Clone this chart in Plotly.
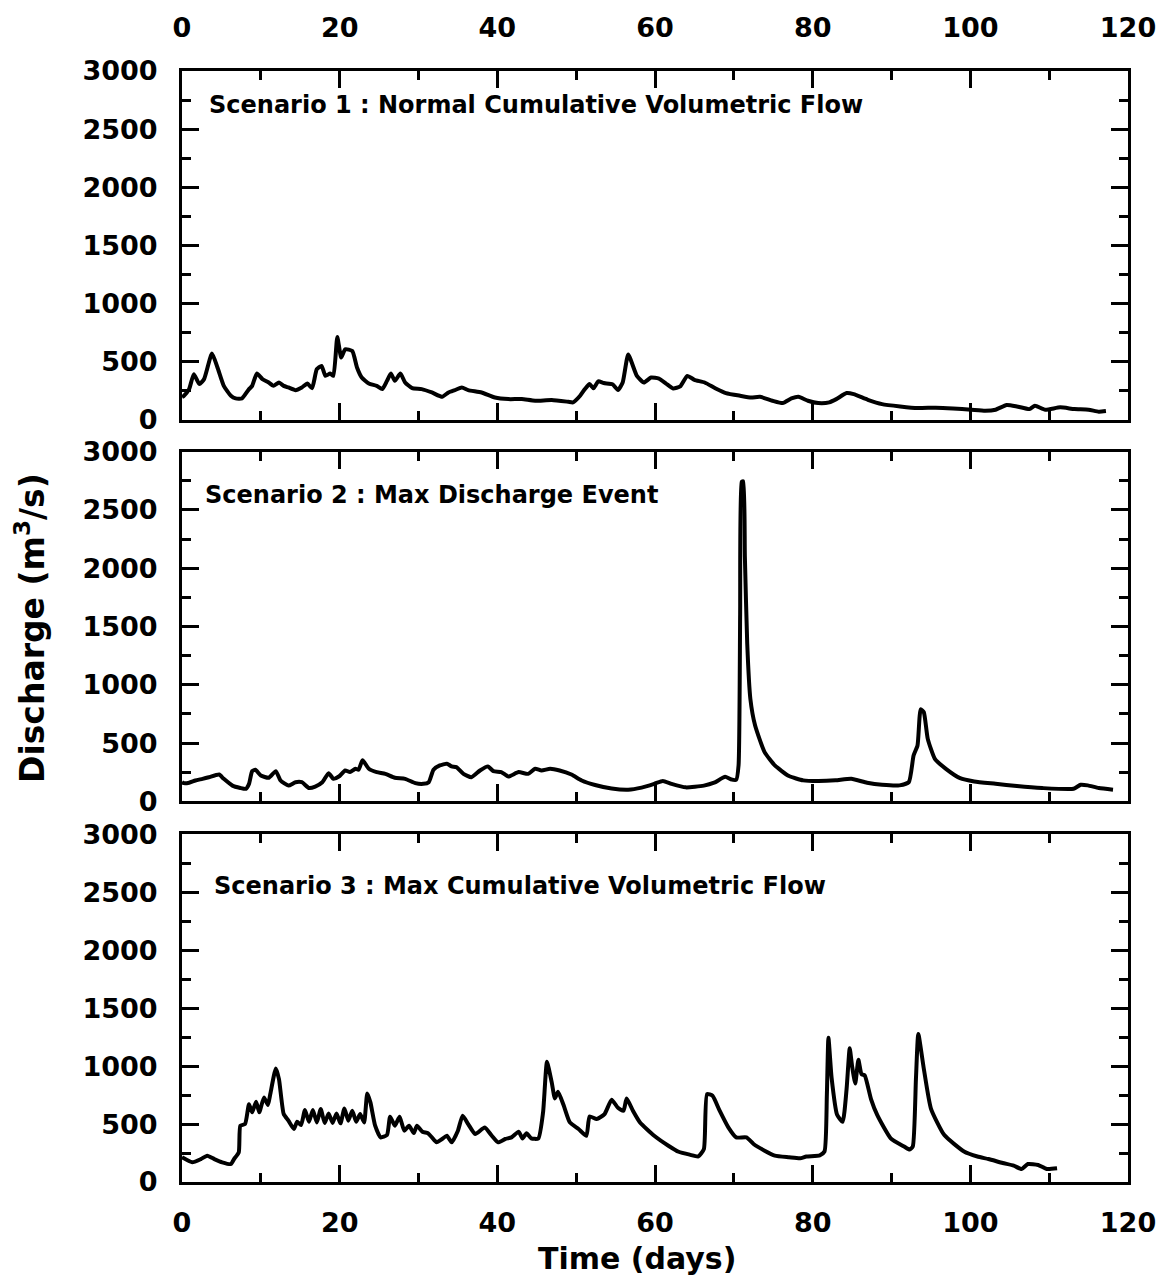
import plotly.graph_objects as go

# Scenario 1 : normal cumulative volumetric flow
s1_days = [0, 0.25, 0.9, 1.5, 2.2, 2.8, 3.8, 4.5, 5.3, 6.2, 6.8, 7.6, 8.5, 8.9, 9.5, 10.2,
           11.0, 11.6, 12.3, 12.9, 13.5, 14.4, 15.2, 15.9, 16.5, 17.1, 17.7, 18.2, 18.8, 19.2,
           19.7, 20.2, 20.7, 21.6, 22.2, 22.8, 23.7, 24.7, 25.4, 26.0, 26.5, 27.0, 27.7, 28.3,
           29.2, 30.4, 31.7, 33.0, 33.8, 34.6, 35.5, 36.3, 38.0, 39.7, 41.4, 43.1, 44.8, 46.9,
           49.0, 49.6, 50.5, 51.1, 51.7, 52.2, 52.8, 53.5, 54.6, 55.3, 55.9, 56.6, 57.7, 58.6,
           59.5, 60.5, 61.4, 62.3, 63.2, 64.1, 65.0, 66.3, 67.7, 69.0, 70.8, 72.2, 73.3, 74.9,
           76.2, 77.3, 78.2, 79.4, 80.7, 82.1, 83.0, 84.3, 85.2, 87.0, 88.8, 91.1, 93.3, 95.6,
           97.8, 100.1, 101.9, 103.2, 104.6, 105.9, 107.5, 108.2, 109.5, 111.4, 113.2, 115.0,
           116.3, 117.2]
s1_flow = [195, 206, 263, 391, 306, 349, 569, 449, 291, 206, 183, 183, 263, 291, 397, 349,
           320, 291, 320, 291, 277, 254, 277, 311, 271, 434, 463, 377, 397, 377,
           711, 534, 606, 591, 449, 363, 311, 291, 263, 334, 397, 334, 397, 320,
           271, 263, 234, 197, 234, 254, 277, 254, 234, 191, 177, 177, 163, 169,
           154, 149, 206, 263, 306, 271, 330, 315, 305, 255, 320, 560, 377, 320,
           363, 354, 311, 269, 286, 377, 343, 320, 269, 229, 206, 191, 197, 163,
           143, 183, 197, 163, 143, 149, 177, 229, 220, 171, 134, 114, 100, 103,
           97, 86, 77, 86, 126, 114, 91, 120, 86, 106, 91, 86,
           69, 74]

# Scenario 2 : max discharge event
s2_days = [0, 0.25, 0.9, 1.7, 2.6, 3.4, 4.7, 5.3, 6.4, 7.4, 8.1, 8.5, 8.9, 9.3, 10.0, 11.0,
           11.9, 12.5, 13.5, 14.4, 15.2, 16.1, 16.9, 17.8, 18.6, 19.2, 19.9, 20.7, 21.3, 22.0,
           22.4, 22.9, 23.7, 24.7, 25.8, 27.0, 28.3, 29.6, 30.6, 31.3, 31.9, 32.7, 33.6, 34.2,
           34.8, 35.7, 36.7, 37.8, 38.8, 39.5, 40.5, 41.4, 42.7, 43.9, 44.8, 45.6, 46.7, 47.9,
           49.4, 50.7, 52.4, 54.5, 56.6, 58.3, 59.9, 61.0, 62.1, 63.9, 66.2, 67.5, 68.9, 69.6,
           70.3, 70.6, 70.8, 71.0, 71.2, 71.4, 71.7, 72.1, 72.7, 73.9, 75.2, 77.0, 78.8, 80.6,
           82.9, 84.9, 86.9, 88.8, 91.0, 92.2, 92.8, 93.3, 93.7, 94.1, 94.6, 95.5, 96.9, 98.7,
           100.5, 103.2, 105.9, 109.1, 113.1, 114.0, 114.9, 116.3, 118.1]
s2_flow = [165, 156, 160, 179, 193, 207, 230, 193, 135, 115, 107, 150, 259, 271, 222, 202,
           259, 179, 135, 164, 164, 115, 127, 164, 242, 193, 213, 265, 251, 280,
           271, 352, 280, 251, 236, 202, 193, 156, 150, 164, 271, 308, 323, 300,
           294, 236, 207, 265, 300, 259, 251, 213, 251, 236, 280, 265, 280, 265,
           230, 179, 140, 110, 100, 118, 150, 175, 150, 120, 135, 160, 210, 190,
           185, 308, 1600, 2740, 2745, 2100, 1350, 877, 650, 422, 308, 217, 180, 174,
           180, 194, 160, 142, 137, 165, 393, 479, 790, 764, 536, 365, 279, 199,
           171, 151, 131, 114, 108, 142, 137, 114, 100]

# Scenario 3 : max cumulative volumetric flow
s3_days = [0, 1.3, 2.4, 3.2, 4.1, 5.1, 6.2, 6.6, 7.2, 7.4, 8.0, 8.5, 8.9, 9.4, 9.8, 10.4,
           10.9, 11.2, 11.9, 12.3, 12.9, 13.5, 14.2, 14.6, 15.1, 15.6, 16.1, 16.6, 17.1, 17.6,
           18.1, 18.6, 19.1, 19.6, 20.1, 20.6, 21.1, 21.6, 22.1, 22.6, 23.1, 23.5, 23.9, 24.5,
           25.2, 26.0, 26.4, 27.0, 27.6, 28.2, 28.8, 29.4, 29.8, 30.5, 31.2, 31.7, 32.3, 33.0,
           33.6, 34.2, 35.0, 35.6, 36.3, 37.2, 38.4, 39.3, 40.1, 41.0, 41.8, 42.7, 43.2, 43.7,
           44.3, 45.2, 45.8, 46.3, 46.9, 47.3, 47.7, 48.4, 49.2, 50.3, 51.3, 51.7, 52.6, 53.6,
           54.5, 55.3, 56.0, 56.4, 57.2, 58.1, 59.9, 61.7, 63.0, 64.4, 65.5, 66.2, 66.6, 67.3,
           68.2, 69.3, 70.3, 71.6, 72.5, 73.9, 75.2, 77.0, 78.4, 79.2, 80.9, 81.5, 81.8, 82.0,
           82.4, 83.1, 83.8, 84.3, 84.7, 85.0, 85.4, 85.8, 86.2, 86.6, 87.4, 88.2, 89.9, 91.6,
           92.3, 92.7, 93.1, 93.4, 94.1, 95.0, 96.7, 99.2, 100.9, 102.3, 104.1, 105.5, 106.5,
           107.3, 108.6, 109.7, 111.0]
s3_flow = [213, 170, 198, 227, 198, 170, 155, 198, 256, 486, 500, 672, 601, 693, 601, 730,
           664, 759, 980, 888, 586, 529, 457, 520, 491, 621, 520, 621, 514, 629,
           509, 592, 509, 592, 506, 635, 529, 615, 520, 586, 514, 764, 687, 486,
           385, 405, 563, 486, 563, 443, 486, 422, 486, 434, 420, 385, 342, 371,
           399, 342, 443, 572, 500, 414, 471, 399, 342, 371, 385, 434, 376, 420,
           376, 376, 601, 1037, 859, 721, 779, 664, 514, 457, 399, 566, 543, 586,
           710, 640, 615, 721, 615, 514, 399, 313, 261, 236, 221, 284, 759, 744,
           615, 471, 385, 385, 328, 270, 227, 213, 204, 220, 230, 263, 750, 1245,
           900, 580, 520, 800, 1154, 1000, 849, 1054, 930, 920, 716, 577, 377, 306,
           280, 306, 890, 1277, 977, 634, 405, 263, 220, 198, 164, 141, 112,
           155, 147, 112, 118]

scenario_labels = [
    "Scenario 1 : Normal Cumulative Volumetric Flow",
    "Scenario 2 : Max Discharge Event",
    "Scenario 3 : Max Cumulative Volumetric Flow",
]
x_ticks = [0, 20, 40, 60, 80, 100, 120]
y_ticks = [0, 500, 1000, 1500, 2000, 2500, 3000]

FONT = "DejaVu Sans"
W, H = 1168, 1280
ML, MR, MT, MB = 182, 37, 70, 98
plot_h = H - MT - MB
plot_w = W - ML - MR


def px_y(py):
    return (H - MB - py) / plot_h


def px_x(px):
    return (px - ML) / plot_w


domains = [
    [px_y(419), 1.0],
    [px_y(801), px_y(451)],
    [0.0, px_y(834)],
]

fig = go.Figure()
series = [(s1_days, s1_flow), (s2_days, s2_flow), (s3_days, s3_flow)]
for i, (d, q) in enumerate(series):
    fig.add_trace(go.Scatter(
        x=d, y=q, mode="lines",
        line=dict(color="black", width=4, shape="spline", smoothing=0.5),
        xaxis="x" if i == 0 else f"x{i + 1}",
        yaxis="y" if i == 0 else f"y{i + 1}",
        showlegend=False, hoverinfo="skip",
    ))

tick_font = dict(family=FONT, size=27, color="black", weight="bold")

layout = dict(
    width=W, height=H,
    margin=dict(l=ML, r=MR, t=MT, b=MB),
    paper_bgcolor="white", plot_bgcolor="white",
    showlegend=False,
)

for i in range(3):
    sfx = "" if i == 0 else str(i + 1)
    show_x = i in (0, 2)
    layout[f"xaxis{sfx}"] = dict(
        domain=[0, 1], anchor=f"y{sfx}", range=[0, 120],
        tickvals=x_ticks, ticktext=[str(v) for v in x_ticks],
        showticklabels=show_x, side="top" if i == 0 else "bottom",
        ticks="inside", ticklen=17, tickwidth=3, tickcolor="black",
        minor=dict(dtick=10, tick0=0, ticks="inside", ticklen=9, tickwidth=3, tickcolor="black"),
        showline=True, linewidth=3, linecolor="black", mirror="ticks",
        showgrid=False, zeroline=False, tickfont=tick_font,
        ticklabelstandoff=20 if i == 0 else 15,
    )
    layout[f"yaxis{sfx}"] = dict(
        domain=domains[i], anchor=f"x{sfx}", range=[0, 3000],
        tickvals=y_ticks, ticktext=[str(v) for v in y_ticks],
        ticks="inside", ticklen=17, tickwidth=3, tickcolor="black",
        minor=dict(dtick=250, tick0=0, ticks="inside", ticklen=9, tickwidth=3, tickcolor="black"),
        showline=True, linewidth=3, linecolor="black", mirror="ticks",
        showgrid=False, zeroline=False, tickfont=tick_font, ticklabelstandoff=16,
    )

fig.update_layout(**layout)

label_pos = [(207, 104), (203, 494), (212, 886)]
for text, (lx, ly) in zip(scenario_labels, label_pos):
    fig.add_annotation(
        text=text, xref="paper", yref="paper", x=px_x(lx), y=px_y(ly),
        xanchor="left", yanchor="middle", showarrow=False,
        font=dict(family=FONT, size=24, color="black", weight="bold"),
    )

fig.add_annotation(
    text="Time (days)", xref="paper", yref="paper", x=px_x(638), y=px_y(1259),
    xanchor="center", yanchor="middle", showarrow=False,
    font=dict(family=FONT, size=30, color="black", weight="bold"),
)
fig.add_annotation(
    text="Discharge (m<sup>3</sup>/s)", xref="paper", yref="paper", x=px_x(30), y=px_y(627),
    xanchor="center", yanchor="middle", textangle=-90, showarrow=False,
    font=dict(family=FONT, size=33, color="black", weight="bold"),
)

fig.write_html("out.html")
